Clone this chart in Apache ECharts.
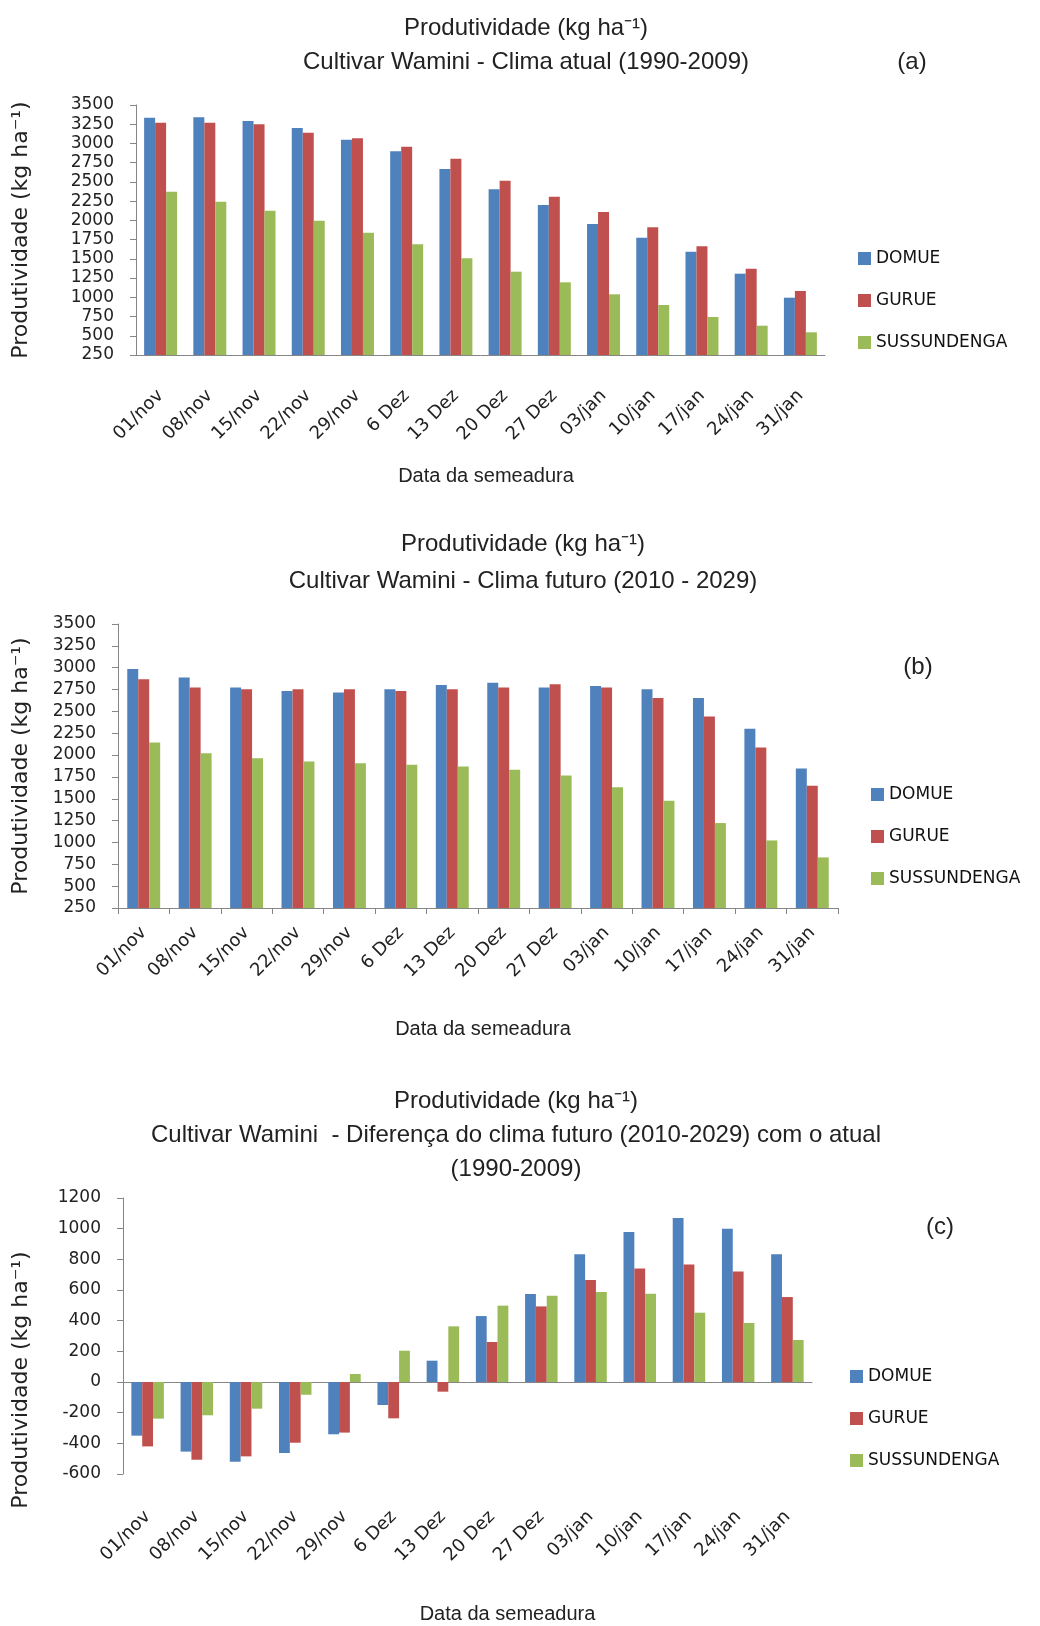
<!DOCTYPE html>
<html>
<head>
<meta charset="utf-8">
<title>Produtividade - Cultivar Wamini</title>
<script src="https://cdn.jsdelivr.net/npm/echarts@6/dist/echarts.min.js"></script>
<style>
html, body { margin: 0; padding: 0; background: #fff; }
#chart { width: 1040px; height: 1626px; }
</style>
</head>
<body>
<div id="chart"></div>
<script>
// datas da semeadura
var datas = ["01/nov", "08/nov", "15/nov", "22/nov", "29/nov", "6 Dez", "13 Dez",
  "20 Dez", "27 Dez", "03/jan", "10/jan", "17/jan", "24/jan", "31/jan"];
var locais = ["DOMUE", "GURUE", "SUSSUNDENGA"];

// (a) clima atual 1990-2009
var domueAtual = [3335, 3340, 3292, 3201, 3049, 2898, 2668, 2404, 2200, 1953, 1775, 1593, 1307, 995];
var gurueAtual = [3270, 3270, 3249, 3140, 3067, 2958, 2802, 2516, 2308, 2109, 1910, 1663, 1372, 1082];
var sussAtual = [2373, 2243, 2126, 1996, 1840, 1689, 1507, 1333, 1195, 1039, 900, 744, 631, 545];

// (b) clima futuro 2010-2029
var domueFuturo = [2986, 2887, 2772, 2734, 2715, 2753, 2803, 2829, 2772, 2791, 2753, 2654, 2300, 1846];
var gurueFuturo = [2867, 2772, 2753, 2753, 2753, 2734, 2753, 2772, 2810, 2772, 2654, 2441, 2086, 1648];
var sussFuturo = [2144, 2022, 1964, 1926, 1907, 1888, 1869, 1831, 1766, 1633, 1477, 1222, 1023, 829];

// (c) diferenca futuro - atual
var domueDif = [-350, -454, -520, -463, -341, -150, 139, 430, 574, 833, 978, 1070, 1000, 833];
var gurueDif = [-420, -507, -485, -396, -330, -237, -63, 261, 493, 665, 741, 767, 720, 554];
var sussDif = [-239, -217, -174, -83, 52, 204, 363, 498, 563, 587, 576, 452, 385, 274];

// eixos y
var eixoProd = [250, 3500, 250];   // min, max, intervalo
var eixoDif = [-600, 1200, 200];

var cores = ["#4F81BD", "#C0504D", "#9BBB59"];
var cinza = "#868686";
var fonteTitulo = "'Liberation Sans', Arial, sans-serif";
var fonteEixo = "'DejaVu Sans', Verdana, sans-serif";
var nomeY = "Produtividade (kg ha\u207B\u00B9)";

const chart = echarts.init(document.getElementById("chart"));

function titulo(texto, x, y, alt) {
  return {
    text: texto, left: x, top: y, textAlign: "center", padding: 0,
    textStyle: { fontFamily: fonteTitulo, fontSize: 24, fontWeight: "normal", color: "#222", lineHeight: alt }
  };
}

function legenda(x, y) {
  return {
    data: locais, orient: "vertical", left: x, top: y, icon: "rect",
    itemWidth: 13, itemHeight: 13, itemGap: 25, padding: 0,
    textStyle: { fontFamily: fonteEixo, fontSize: 17, color: "#111", lineHeight: 16 }
  };
}

function eixoX(idx, margem, gapNome, padNome, comTicks) {
  return {
    gridIndex: idx, type: "category", data: datas,
    axisLine: { show: idx != 2, onZero: false, lineStyle: { color: cinza } },
    axisTick: { show: comTicks, length: 6, lineStyle: { color: cinza } },
    axisLabel: { rotate: 45, margin: margem, interval: 0, fontFamily: fonteEixo, fontSize: 18, color: "#222" },
    name: "Data da semeadura", nameLocation: "middle", nameGap: gapNome,
    nameTextStyle: { fontFamily: fonteTitulo, fontSize: 20, color: "#222", padding: padNome }
  };
}

function eixoY(idx, esc, gapNome, padNome) {
  return {
    gridIndex: idx, type: "value", min: esc[0], max: esc[1], interval: esc[2],
    splitLine: { show: false },
    axisLine: { show: true, lineStyle: { color: cinza } },
    axisTick: { show: true, length: 6, lineStyle: { color: cinza } },
    axisLabel: {
      margin: 22, fontFamily: fonteEixo, fontSize: 17, color: "#222",
      formatter: function (v) { return String(v); }
    },
    name: nomeY, nameLocation: "middle", nameGap: gapNome,
    nameTextStyle: { fontFamily: fonteEixo, fontSize: 22, color: "#222", padding: padNome }
  };
}

function barras(nome, cor, dados, idx, gap) {
  return {
    type: "bar", name: nome, xAxisIndex: idx, yAxisIndex: idx,
    barGap: "0%", barCategoryGap: gap,
    itemStyle: { color: cor },
    data: dados
  };
}

var eixoZero = {
  gridIndex: 2, type: "category", data: datas, position: "bottom",
  axisLine: { show: true, onZero: true, lineStyle: { color: cinza } },
  axisTick: { show: false }, axisLabel: { show: false }
};

chart.setOption({
  animation: false,
  backgroundColor: "#fff",
  title: [
    titulo("Produtividade (kg ha\u207B\u00B9)\nCultivar Wamini - Clima atual (1990-2009)", 526, 11, 34),
    titulo("(a)", 912, 45, 34),
    titulo("Produtividade (kg ha\u207B\u00B9)\nCultivar Wamini - Clima futuro (2010 - 2029)", 523, 526, 37),
    titulo("(b)", 918, 650, 34),
    titulo("Produtividade (kg ha\u207B\u00B9)\nCultivar Wamini  - Diferença do clima futuro (2010-2029) com o atual\n(1990-2009)", 516, 1084, 34),
    titulo("(c)", 940, 1210, 34)
  ],
  legend: [legenda(858, 250), legenda(871, 786), legenda(850, 1368)],
  grid: [
    { left: 136, width: 689, top: 105, height: 250 },
    { left: 118, width: 720, top: 624, height: 284 },
    { left: 123, width: 689, top: 1198, height: 276 }
  ],
  xAxis: [
    eixoX(0, 38, 111, [0, 0, 0, 11], false),
    eixoX(1, 22, 111, [0, 0, 0, 10], true),
    eixoX(2, 40, 130, [0, 0, 0, 80], false),
    eixoZero
  ],
  yAxis: [
    eixoY(0, eixoProd, 104, 0),
    eixoY(1, eixoProd, 86, 0),
    eixoY(2, eixoDif, 91, [0, 88, 0, 0])
  ],
  series: [
    barras("DOMUE", cores[0], domueAtual, 0, "33%"),
    barras("GURUE", cores[1], gurueAtual, 0, "33%"),
    barras("SUSSUNDENGA", cores[2], sussAtual, 0, "33%"),
    barras("DOMUE", cores[0], domueFuturo, 1, "36%"),
    barras("GURUE", cores[1], gurueFuturo, 1, "36%"),
    barras("SUSSUNDENGA", cores[2], sussFuturo, 1, "36%"),
    barras("DOMUE", cores[0], domueDif, 2, "34%"),
    barras("GURUE", cores[1], gurueDif, 2, "34%"),
    barras("SUSSUNDENGA", cores[2], sussDif, 2, "34%")
  ]
});
</script>
</body>
</html>
